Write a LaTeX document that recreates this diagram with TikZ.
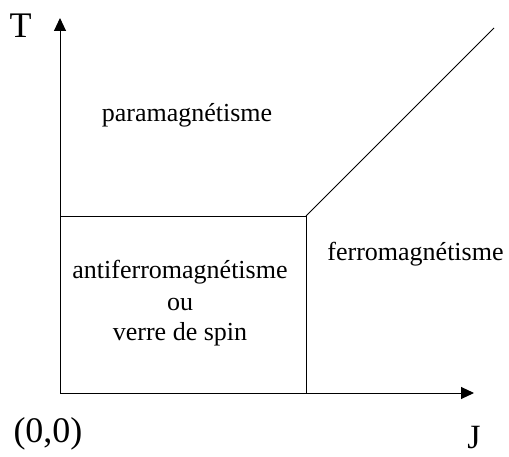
\documentclass[tikz,border=0pt]{standalone}
\usepackage{fontspec}
\setmainfont{Liberation Serif}
\usetikzlibrary{arrows.meta}
\begin{document}
\begin{tikzpicture}[x=1pt,y=-1pt,
  axis/.style={line width=1pt,-{Triangle[length=13pt,width=12pt]}},
  edge/.style={line width=0.9pt},
  biglabel/.style={font=\fontsize{36}{40}\selectfont,anchor=base,inner sep=0pt},
  phase/.style={font=\fontsize{26}{30}\selectfont,anchor=base,inner sep=0pt,align=center}]
\useasboundingbox (0,0) rectangle (509,457);
\coordinate (O) at (60,393);
\coordinate (ytop) at (60,18);
\coordinate (xend) at (474,393);
\coordinate (boxtl) at (60,216);
\coordinate (boxtr) at (306,216);
\coordinate (boxbr) at (306,393);
\coordinate (diagend) at (494,28);
\draw[axis] (O) -- (ytop);
\draw[axis] (O) -- (xend);
\draw[edge] (boxtl) -- (boxtr) -- (boxbr);
\draw[edge] (boxtr) -- (diagend);
\node[biglabel] (T) at (20.5,38) {T};
\node[biglabel] (orig) at (48,442) {(0,0)};
\node[biglabel,font=\fontsize{34}{38}\selectfont] (J) at (474,448) {J};
\node[phase] (para) at (187,122) {paramagnétisme};
\node[phase] (ferro) at (415.5,261) {ferromagnétisme};
\node[phase] (af1) at (180,279) {antiferromagnétisme};
\node[phase] (af2) at (180,310) {ou};
\node[phase] (af3) at (180,340) {verre de spin};
\end{tikzpicture}
\end{document}
